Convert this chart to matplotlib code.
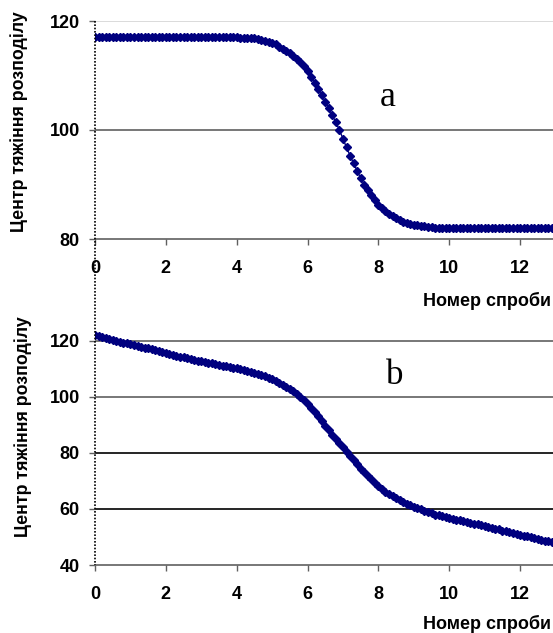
import matplotlib
matplotlib.use('Agg')
import matplotlib.pyplot as plt
from matplotlib.lines import Line2D

plt.rcParams['font.family'] = ['Liberation Sans', 'DejaVu Sans']

# ---- дані ----
trial = [i / 10 for i in range(131)]  # номер спроби, крок 0.1

centre_a = [
    117.0, 117.0, 117.0, 117.0, 117.0, 117.0, 117.0, 117.0, 117.0, 117.0,
    117.0, 117.0, 117.0, 117.0, 117.0, 117.0, 117.0, 117.0, 117.0, 117.0,
    117.0, 117.0, 117.0, 117.0, 117.0, 117.0, 117.0, 117.0, 117.0, 117.0,
    117.0, 117.0, 117.0, 117.0, 117.0, 117.0, 117.0, 117.0, 117.0, 117.0,
    117.0, 116.9, 116.9, 116.9, 116.8, 116.8, 116.7, 116.5, 116.4, 116.2,
    116.0, 115.7, 115.3, 114.9, 114.5, 114.1, 113.6, 113.0, 112.4, 111.7,
    110.8, 109.8, 108.7, 107.5, 106.4, 105.2, 104.0, 102.7, 101.4, 100.0,
    98.4, 96.8, 95.3, 93.9, 92.5, 91.2, 90.0, 88.9, 88.0, 87.1,
    86.3, 85.6, 85.1, 84.6, 84.2, 83.8, 83.5, 83.2, 83.0, 82.8,
    82.6, 82.5, 82.4, 82.3, 82.2, 82.2, 82.1, 82.1, 82.1, 82.1,
    82.0, 82.0, 82.0, 82.0, 82.0, 82.0, 82.0, 82.0, 82.0, 82.0,
    82.0, 82.0, 82.0, 82.0, 82.0, 82.0, 82.0, 82.0, 82.0, 82.0,
    82.0, 82.0, 82.0, 82.0, 82.0, 82.0, 82.0, 82.0, 82.0, 82.0,
    82.0,
]

centre_b = [
    122.0, 121.6, 121.2, 120.8, 120.5, 120.2, 119.9, 119.6, 119.3, 119.0,
    118.7, 118.4, 118.1, 117.8, 117.5, 117.2, 116.9, 116.5, 116.2, 115.8,
    115.5, 115.2, 114.9, 114.6, 114.3, 114.0, 113.7, 113.4, 113.1, 112.9,
    112.7, 112.5, 112.2, 111.9, 111.6, 111.3, 111.1, 110.9, 110.6, 110.4,
    110.2, 109.9, 109.5, 109.2, 108.8, 108.5, 108.1, 107.7, 107.3, 106.8,
    106.3, 105.7, 105.0, 104.3, 103.6, 102.9, 102.0, 101.0, 99.9, 98.7,
    97.4, 96.0, 94.6, 93.0, 91.3, 89.6, 88.0, 86.4, 84.9, 83.4,
    81.9, 80.4, 78.9, 77.4, 75.9, 74.4, 73.0, 71.7, 70.5, 69.3,
    68.2, 67.2, 66.2, 65.3, 64.5, 63.8, 63.1, 62.4, 61.8, 61.3,
    60.8, 60.3, 59.8, 59.3, 58.8, 58.4, 58.0, 57.7, 57.4, 57.1,
    56.8, 56.5, 56.2, 55.9, 55.6, 55.3, 55.0, 54.7, 54.5, 54.2,
    53.9, 53.6, 53.3, 53.0, 52.7, 52.3, 52.0, 51.7, 51.4, 51.1,
    50.8, 50.5, 50.2, 49.9, 49.6, 49.3, 49.0, 48.7, 48.4, 48.1,
    47.8,
]

xticks = [0, 2, 4, 6, 8, 10, 12]
yticks_a = [80, 100, 120]
yticks_b = [40, 60, 80, 100, 120]
grid_a = {100: '#606060', 120: '#d4d4d4'}
grid_b = {60: 'black', 80: 'black', 100: '#606060', 120: '#606060'}

ylabel = 'Центр тяжіння розподілу'
xlabel = 'Номер спроби'
navy = '#00007f'

W, H = 553, 633
fig = plt.figure(figsize=(W / 100, H / 100), dpi=100)

ax_a = fig.add_axes([95 / W, 1 - 239 / H, 460.5 / W, 218 / H])
ax_b = fig.add_axes([95 / W, 1 - 565 / H, 460.5 / W, 252.4 / H])


def style(ax, yticks, ylim, grid):
    ax.set_xlim(0, 13)
    ax.set_ylim(*ylim)
    for y, c in grid.items():
        ax.axhline(y, color=c, lw=1.2, zorder=1)
    for s in ['top', 'right', 'left']:
        ax.spines[s].set_visible(False)
    ax.spines['bottom'].set_color('#606060')
    ax.spines['bottom'].set_linewidth(1.2)
    ax.set_xticks(xticks)
    ax.set_yticks(yticks)
    ax.tick_params(axis='x', direction='out', length=4, width=1, color='#606060',
                   pad=11, labelsize=13)
    ax.tick_params(axis='y', direction='out', length=4, width=1, color='#606060',
                   pad=7, labelsize=13)
    for lab in ax.get_xticklabels() + ax.get_yticklabels():
        lab.set_fontweight('bold')
    ax.patch.set_alpha(0)


style(ax_a, yticks_a, (80, 120), grid_a)
style(ax_b, yticks_b, (40, 130), grid_b)

ax_a.plot(trial, centre_a, color=navy, lw=1, marker='D', ms=4, mec=navy,
          clip_on=True, zorder=3)
ax_b.plot(trial, centre_b, color=navy, lw=1, marker='D', ms=4, mec=navy,
          clip_on=True, zorder=3)

ax_a.text(8.25, 106, 'a', family=['Liberation Serif', 'DejaVu Serif'],
          fontsize=26, ha='center', va='center')
ax_b.text(8.47, 107.7, 'b', family=['Liberation Serif', 'DejaVu Serif'],
          fontsize=25, ha='center', va='center')

# підписи осей
fig.text(19 / W, 1 - 122 / H, ylabel, rotation=90, ha='center', va='center',
         fontsize=12.8, fontweight='bold')
fig.text(23 / W, 1 - 427 / H, ylabel, rotation=90, ha='center', va='center',
         fontsize=12.8, fontweight='bold')
fig.text(551 / W, 1 - 301 / H, xlabel, ha='right', va='center',
         fontsize=13, fontweight='bold')
fig.text(551 / W, 1 - 624 / H, xlabel, ha='right', va='center',
         fontsize=13, fontweight='bold')

# пунктирна вертикальна вісь через обидві панелі
fig.add_artist(Line2D([95 / W, 95 / W], [1 - 21 / H, 1 - 565 / H],
                      transform=fig.transFigure, color='black', lw=1.2,
                      linestyle=(0, (1, 1))))

fig.savefig('out.png', dpi=100)
